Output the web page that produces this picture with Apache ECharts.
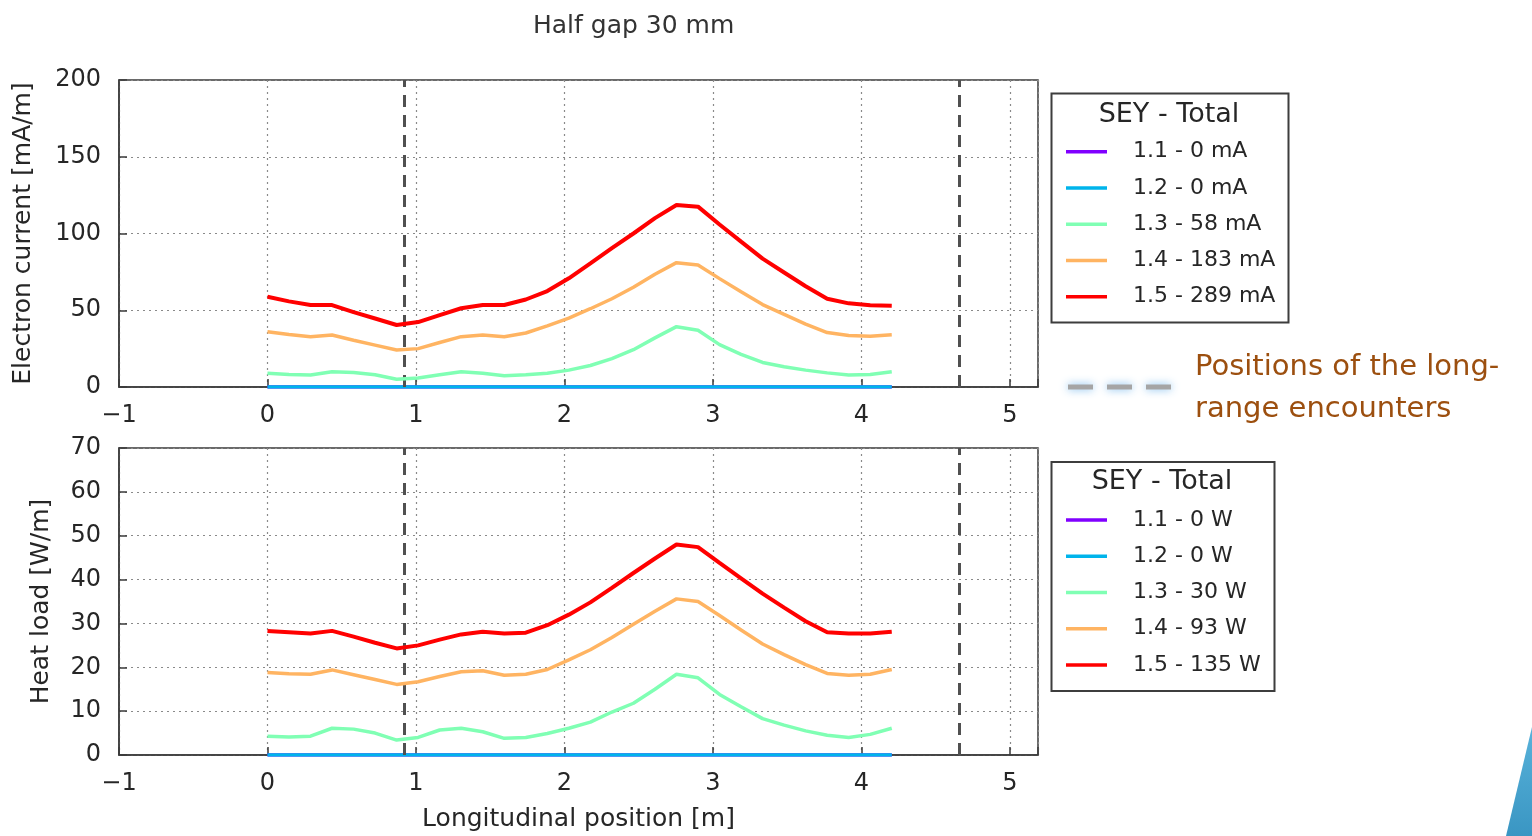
<!DOCTYPE html>
<html><head><meta charset="utf-8">
<script src="https://cdn.jsdelivr.net/npm/echarts@6/dist/echarts.min.js"></script>
<style>html,body{margin:0;padding:0;background:#fff}#c{width:1532px;height:836px}</style>
</head><body><div id="c"></div>
<script>
// ---- data ----
const positions = [0, 0.145, 0.29, 0.435, 0.58, 0.725, 0.87, 1.015, 1.16, 1.305, 1.45, 1.595, 1.74, 1.885, 2.03, 2.175, 2.32, 2.465, 2.61, 2.755, 2.9, 3.045, 3.19, 3.335, 3.48, 3.625, 3.77, 3.915, 4.06, 4.205];
const xTicks = [-1, 0, 1, 2, 3, 4, 5];
const encounters = [0.915, 4.66];

const topNames = ['1.1 - 0 mA', '1.2 - 0 mA', '1.3 - 58 mA', '1.4 - 183 mA', '1.5 - 289 mA'];
const bottomNames = ['1.1 - 0 W', '1.2 - 0 W', '1.3 - 30 W', '1.4 - 93 W', '1.5 - 135 W'];

const currentSey11 = [0,0,0,0,0,0,0,0,0,0,0,0,0,0,0,0,0,0,0,0,0,0,0,0,0,0,0,0,0,0];
const currentSey12 = [0,0,0,0,0,0,0,0,0,0,0,0,0,0,0,0,0,0,0,0,0,0,0,0,0,0,0,0,0,0];
const currentSey13 = [8.9, 8.2, 7.8, 10, 9.5, 8, 5, 5.8, 8, 10, 9, 7.4, 8, 9, 11, 14, 18.5, 24.3, 32, 39.3, 37, 27.6, 21.3, 16, 13.2, 11, 9.2, 7.8, 8.2, 10];
const currentSey14 = [36, 34.2, 32.8, 33.9, 30.5, 27.3, 24.1, 25, 29, 32.8, 33.9, 32.8, 35.2, 39.8, 44.9, 51, 57.5, 65, 73.5, 81, 79.5, 70.6, 62, 53.7, 47.3, 41, 35.5, 33.5, 33, 34];
const currentSey15 = [58.8, 55.8, 53.4, 53.4, 48.8, 44.6, 40.4, 42.3, 46.8, 51.3, 53.4, 53.4, 57, 62.5, 70.8, 80.5, 90.5, 100, 110, 118.6, 117.5, 105.9, 94.7, 83.6, 74.6, 65.6, 57.5, 54.5, 53.3, 53];

const heatSey11 = [0,0,0,0,0,0,0,0,0,0,0,0,0,0,0,0,0,0,0,0,0,0,0,0,0,0,0,0,0,0];
const heatSey12 = [0,0,0,0,0,0,0,0,0,0,0,0,0,0,0,0,0,0,0,0,0,0,0,0,0,0,0,0,0,0];
const heatSey13 = [4.3, 4.1, 4.3, 6.1, 5.9, 5.0, 3.4, 4, 5.7, 6.1, 5.3, 3.8, 4, 4.9, 6.1, 7.5, 9.8, 11.8, 15, 18.4, 17.6, 13.8, 11, 8.3, 6.8, 5.5, 4.5, 4, 4.7, 6.1];
const heatSey14 = [18.8, 18.5, 18.4, 19.4, 18.3, 17.2, 16.1, 16.7, 17.9, 19, 19.2, 18.2, 18.4, 19.5, 21.7, 24, 26.8, 29.8, 32.8, 35.6, 35, 31.8, 28.5, 25.3, 22.9, 20.6, 18.6, 18.2, 18.4, 19.5];
const heatSey15 = [28.3, 28, 27.7, 28.3, 27, 25.6, 24.3, 25, 26.3, 27.5, 28.1, 27.7, 27.9, 29.6, 32, 34.8, 38.1, 41.5, 44.8, 48, 47.4, 43.8, 40.3, 36.8, 33.6, 30.5, 28, 27.7, 27.7, 28.1];

const colors = ['#8000ff', '#00b4eb', '#80ffb4', '#ffb462', '#ff0000'];

// ---- chart ----
const FONT = 'DejaVu Sans';
const TXT = '#262626';
const chart = echarts.init(document.getElementById('c'));

function pairs(vals) { return positions.map((x, i) => [x, vals[i]]); }

function xAxisCfg(gi, withName) {
  const c = {
    type: 'value', gridIndex: gi, min: -1, max: 5.19, interval: 1,
    axisLine: { show: true, onZero: false, lineStyle: { color: '#3a3a3a', width: 1.5 } },
    axisTick: { show: true, inside: true, length: 8, lineStyle: { color: '#3a3a3a', width: 1.5 } },
    axisLabel: {
      fontFamily: FONT, fontSize: 24, color: TXT, margin: 17,
      formatter: v => xTicks.indexOf(v) >= 0 ? (v < 0 ? '\u2212' + (-v) : String(v)) : ''
    },
    splitLine: { show: true, lineStyle: { color: '#8a8a8a', width: 1.2, type: [2, 4] } }
  };
  if (withName) {
    c.name = 'Longitudinal position [m]';
    c.nameLocation = 'middle';
    c.nameGap = 52;
    c.nameTextStyle = { fontFamily: FONT, fontSize: 25, color: TXT };
  }
  return c;
}
function yAxisCfg(gi, max, interval, name, gap) {
  return {
    type: 'value', gridIndex: gi, min: 0, max: max, interval: interval,
    axisLine: { show: true, onZero: false, lineStyle: { color: '#3a3a3a', width: 1.5 } },
    axisTick: { show: true, inside: true, length: 8, lineStyle: { color: '#3a3a3a', width: 1.5 } },
    axisLabel: { fontFamily: FONT, fontSize: 24, color: TXT, margin: 18 },
    splitLine: { show: true, lineStyle: { color: '#8a8a8a', width: 1.2, type: [2, 4] } },
    name: name, nameLocation: 'middle', nameGap: gap,
    nameTextStyle: { fontFamily: FONT, fontSize: 25, color: TXT }
  };
}
function lineSeries(name, vals, color, gi, width, z, withMark) {
  const s = {
    type: 'line', name: name, xAxisIndex: gi, yAxisIndex: gi,
    data: pairs(vals), showSymbol: false, symbol: 'none', smooth: false,
    lineStyle: { color: color, width: width }, itemStyle: { color: color },
    z: z, animation: false
  };
  if (withMark) {
    s.markLine = {
      silent: true, symbol: ['none', 'none'], label: { show: false },
      lineStyle: { color: '#505050', width: 3, type: [12, 8] },
      data: encounters.map(x => ({ xAxis: x })),
      animation: false
    };
  }
  return s;
}
const topVals = [currentSey11, currentSey12, currentSey13, currentSey14, currentSey15];
const botVals = [heatSey11, heatSey12, heatSey13, heatSey14, heatSey15];
const zOrder = [3, 4, 5, 6, 7];
const widths = [3.5, 3.5, 3.5, 3.5, 4];
const series = [];
topVals.forEach((v, i) => series.push(lineSeries(topNames[i], v, colors[i], 0, widths[i], zOrder[i], i === 4)));
botVals.forEach((v, i) => series.push(lineSeries(bottomNames[i], v, colors[i], 1, widths[i], zOrder[i], i === 4)));

function legendCfg(names, top) {
  return {
    data: names, orient: 'vertical', left: 1066, top: top,
    icon: 'rect', itemWidth: 41, itemHeight: 3.5, itemGap: 14.25,
    selectedMode: false, padding: 0,
    formatter: n => '{g|}{t|' + n + '}',
    textStyle: {
      rich: {
        g: { width: 21, height: 22 },
        t: { fontFamily: FONT, fontSize: 22, color: TXT, lineHeight: 22 }
      }
    }
  };
}

const option = {
  backgroundColor: '#ffffff',
  animation: false,
  title: {
    text: 'Half gap 30 mm', left: 528, top: 9,
    textStyle: { fontFamily: FONT, fontSize: 25, fontWeight: 'normal', color: '#333' }
  },
  grid: [
    { left: 119, top: 80, width: 919, height: 307, show: true, borderColor: '#3a3a3a', borderWidth: 1.5, containLabel: false },
    { left: 119, top: 448, width: 919, height: 307, show: true, borderColor: '#3a3a3a', borderWidth: 1.5, containLabel: false }
  ],
  xAxis: [xAxisCfg(0, false), xAxisCfg(1, true)],
  yAxis: [
    yAxisCfg(0, 200, 50, 'Electron current [mA/m]', 83),
    yAxisCfg(1, 70, 10, 'Heat load [W/m]', 65)
  ],
  legend: [legendCfg(topNames, 140.7), legendCfg(bottomNames, 509)],
  series: series,
  graphic: [
    { type: 'rect', shape: { x: 1051.5, y: 93.5, width: 237, height: 229 }, style: { fill: 'rgba(0,0,0,0)', stroke: '#3d3d3d', lineWidth: 2 }, z: 1 },
    { type: 'text', x: 1169, y: 115, style: { text: 'SEY - Total', fontFamily: FONT, fontSize: 27, fill: TXT, align: 'center', verticalAlign: 'middle', textAlign: 'center', textVerticalAlign: 'middle' } },
    { type: 'rect', shape: { x: 1051.5, y: 462, width: 223, height: 229 }, style: { fill: 'rgba(0,0,0,0)', stroke: '#3d3d3d', lineWidth: 2 }, z: 1 },
    { type: 'text', x: 1162, y: 482, style: { text: 'SEY - Total', fontFamily: FONT, fontSize: 27, fill: TXT, align: 'center', verticalAlign: 'middle', textAlign: 'center', textVerticalAlign: 'middle' } },
    { type: 'line', shape: { x1: 1068, y1: 387, x2: 1172, y2: 387 }, style: { stroke: '#a5a5a5', lineWidth: 5, lineDash: [25, 14], shadowBlur: 8, shadowColor: 'rgba(110,180,235,0.9)' } },
    { type: 'text', x: 1195, y: 367, style: { text: 'Positions of the long-', fontFamily: FONT, fontSize: 29, fill: '#9c4f0f', align: 'left', verticalAlign: 'middle', textAlign: 'left', textVerticalAlign: 'middle' } },
    { type: 'text', x: 1195, y: 409, style: { text: 'range encounters', fontFamily: FONT, fontSize: 29, fill: '#9c4f0f', align: 'left', verticalAlign: 'middle', textAlign: 'left', textVerticalAlign: 'middle' } },
    { type: 'polygon', shape: { points: [[1532, 727], [1506, 836], [1532, 836]] },
      style: { fill: new echarts.graphic.LinearGradient(0, 0, 0, 1, [{ offset: 0, color: '#58b2da' }, { offset: 1, color: '#3a96c3' }]) } }
  ]
};
chart.setOption(option);
</script>
</body></html>
